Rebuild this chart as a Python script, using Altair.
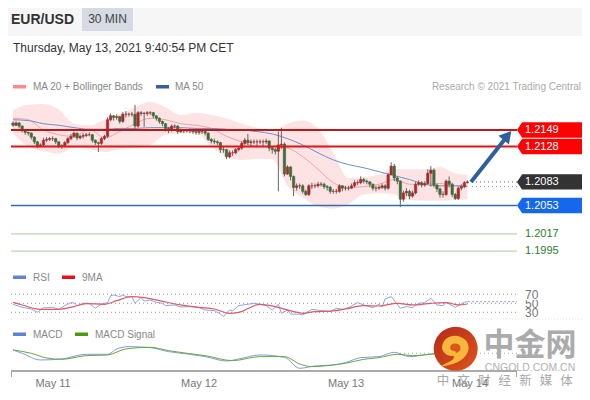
import altair as alt
import pandas as pd

FONT = "Liberation Sans"

# candles: price levels in pips above 1.2000
first_open = 158
closes = [155,158,154,148,146,145,140,134,129,130,
          136,137,138,138,134,129,129,133,138,141,
          145,139,141,142,143,143,136,133,132,138,
          141,162,167,165,166,160,169,169,169,169,
          154,171,170,170,171,171,167,164,160,157,
          151,149,154,154,147,148,148,148,148,147,
          146,147,147,145,137,135,134,133,124,124,
          115,120,120,124,126,132,136,133,134,134,
          134,134,134,135,126,124,122,130,131,93,
          102,90,76,78,78,71,67,78,78,78,
          80,80,77,76,71,71,71,78,75,75,
          75,78,82,82,86,84,83,80,75,75,
          76,78,75,92,103,88,84,61,69,71,
          65,69,80,82,79,81,94,98,79,74,
          67,67,84,80,67,62,75,77,82,83]
highs = [160,160,159,155,149,147,146,141,135,132,
         139,140,140,141,139,134,131,135,140,144,
         147,146,143,145,145,146,144,137,134,140,
         143,165,170,168,169,167,172,173,171,172,
         181,173,173,172,173,173,172,168,165,161,
         158,153,156,156,155,151,150,150,151,150,
         148,150,149,148,146,139,138,136,134,128,
         125,123,123,126,128,135,139,144,137,137,
         137,137,137,138,136,128,126,147,152,133,
         104,103,91,81,81,80,73,80,82,81,
         83,83,82,79,78,74,74,80,79,78,
         78,81,85,85,90,88,86,84,81,78,
         79,81,80,94,108,106,90,85,72,75,
         73,72,83,85,84,84,99,103,100,81,
         76,71,86,90,82,69,77,80,84,85]
lows = [153,154,151,146,143,142,137,131,126,127,
        128,134,135,135,131,126,125,127,131,136,
        139,136,137,138,140,141,133,130,121,130,
        136,139,160,161,162,157,158,165,166,166,
        150,152,167,153,167,168,164,161,157,154,
        147,145,147,151,144,145,145,146,145,144,
        143,143,144,142,135,132,131,130,120,120,
        112,113,116,118,122,124,130,130,128,131,
        127,131,128,131,122,119,118,71,125,90,
        92,85,65,72,74,68,65,65,74,75,
        76,77,74,72,68,68,68,69,71,72,
        72,74,76,79,80,81,80,76,72,71,
        73,74,72,73,92,84,80,51,58,65,
        61,63,67,78,76,77,80,77,76,70,
        63,63,65,76,64,60,60,72,75,81]

# indicator knots
band_bars = [0,5,10,15,20,25,30,35,40,45,50,55,60,65,70,75,80,85,90,95,100,105,110,115,120,125,130,135,140,145,149]
upper = [174,181,182,175,157,155,162,169,178,185,178,168,171,168,164,157,152,146,157,161,151,120,88,89,92,99,99,99,102,94,92]
lower = [145,128,122,119,126,125,121,125,126,130,143,145,145,128,115,111,112,112,78,63,52,49,55,67,69,67,60,59,59,60,61]
ma20 = [164,162,149,143,141,150,139,147,157,164,162,157,155,151,141,134,128,128,126,115,99,82,76,77,80,86,80,80,81,78,78]
ma50 = [162,161,157,155,152,150,150,151,151,152,152,152,151,151,150,149,147,144,138,130,120,111,105,101,96,91,86,80,78,78,77]

rsi_bars = [0,3,6,8,9,10,13,15,17,19,20,21,23,25,27,29,31,32,33,35,36,37,39,40,42,43,45,47,49,50,53,55,58,61,63,66,68,69,71,72,74,77,79,81,83,85,87,88,90,91,94,95,98,101,104,106,108,110,113,115,118,120,121,122,124,127,129,131,133,135,137,139,141,142,145,148,149]
rsi_vals = [47.8,41.1,37.4,30,35,40,41,36.7,44.8,51.5,50.7,44.8,50,50,38.9,48.5,51.5,67,68.5,64.8,68.5,64.8,64.8,50,63.3,55,57.4,52.2,50,44.8,46.3,41.9,42.6,40.4,35.2,33.7,26.3,20.4,35.2,33,44.8,47.8,50,47.8,44.8,35.2,47.8,27.8,35.2,26.3,25.6,24.1,36.7,33.7,31.5,38.9,36.7,40.4,51.5,46.3,40.4,47.8,41.9,59.6,64.8,38.9,42.6,40.4,50,51.5,61.1,46.3,44.8,52.2,41.1,52.2,53.7]
ma9_bars = [0,3,9,15,20,24,30,34,39,43,48,55,61,66,71,74,81,86,92,95,99,105,109,115,120,126,131,137,142,146,149]
ma9_vals = [52.2,46.3,36.7,36.7,42.6,49.3,47.8,55.9,64.8,62.6,55.9,46.3,41.1,37.4,27.8,30,47.8,42.6,31.5,27.8,31.5,33,37.4,44.8,44,50,46.3,50,51.5,46.3,48.5]

macd_bars = [0,3,9,16,24,31,34,38,45,51,58,63,70,74,81,89,94,99,105,109,114,120,125,130,137,142,149]
macd_vals = [25,15,-5,-2,12,12,28,35,32,20,12,5,-8,-2,10,3,-30,-23,-20,-13,2,5,18,5,13,16,25]
signal_bars = [0,6,11,16,24,31,37,45,51,58,63,72,81,89,94,98,105,109,115,120,126,131,137,142,149]
signal_vals = [25,15,1,-3,8,10,28,33,23,14,8,-7,5,5,-17,-25,-20,-15,-3,2,12,8,12,16,20]

opens = [first_open] + closes[:-1]

def price(p):
    return 1.2 + p / 10000

def bx(px):  # page pixel of the reference to bar index
    return (px - 13) / 3.05

xs = alt.Scale(domain=[0, 149], range=[5, 459.45], padding=0, nice=False)
ps = alt.Scale(domain=[1.2053, 1.2149], range=[197.5, 122])
rs = alt.Scale(domain=[30, 70], range=[304.3, 286.3])
ms = alt.Scale(domain=[0, 90], range=[350.3, 320.3])

X = lambda f="x": alt.X(f"{f}:Q", scale=xs, axis=None)
PY = lambda f="y": alt.Y(f"{f}:Q", scale=ps, axis=None)
RY = lambda f="y": alt.Y(f"{f}:Q", scale=rs, axis=None)
MY = lambda f="y": alt.Y(f"{f}:Q", scale=ms, axis=None)

ONE = pd.DataFrame({"a": [0]})
layers = []

def label(text, x, y, size=10, color="#888888", align="left", weight="normal", font=FONT, opacity=1):
    layers.append(alt.Chart(ONE).mark_text(text=text, fontSize=size, color=color, align=align,
                                           baseline="middle", fontWeight=weight, font=font, opacity=opacity)
                  .encode(x=alt.value(x - 8), y=alt.value(y - 8)))

def box(x0, x1, y0, y1, color, opacity=1):
    layers.append(alt.Chart(ONE).mark_rect(color=color, opacity=opacity)
                  .encode(x=alt.value(x0 - 8), x2=alt.value(x1 - 8), y=alt.value(y0 - 8), y2=alt.value(y1 - 8)))

def level(value, x0, x1, color, width, dash=None, scale=PY):
    kw = {"strokeDash": dash} if dash else {}
    df = pd.DataFrame({"x": [bx(x0)], "x1": [bx(x1)], "y": [value]})
    layers.append(alt.Chart(df).mark_rule(color=color, strokeWidth=width, **kw)
                  .encode(x=X(), x2="x1:Q", y=scale()))

# ---------- header ----------
box(0, 590, 0, 36, "#f6f6f6")
box(82, 133, 7, 31, "#d6dae2")
label("EUR/USD", 11, 19.5, size=14, color="#333333", weight="bold")
label("30 MIN", 107.5, 19, size=12, color="#444444", align="center")
label("Thursday, May 13, 2021 9:40:54 PM CET", 13, 48, size=12, color="#333333")
box(13, 26, 85, 88.5, "#ff8a8a")
label("MA 20 + Bollinger Bands", 33, 86.5)
box(156, 169, 85, 88.5, "#355f9f")
label("MA 50", 175, 86.5)
label("Research © 2021 Trading Central", 581, 86.5, color="#aaaaaa", align="right")

# ---------- price panel ----------
bands = pd.DataFrame({"x": band_bars, "u": [price(v) for v in upper], "l": [price(v) for v in lower],
                      "ma20": [price(v) for v in ma20], "ma50": [price(v) for v in ma50]})
layers.append(alt.Chart(bands).mark_area(color="#fde3e3", interpolate="monotone")
              .encode(x=X(), y=PY("u"), y2="l:Q"))
layers.append(alt.Chart(bands).mark_line(color="#f6a3a3", strokeWidth=1, interpolate="monotone")
              .encode(x=X(), y=PY("ma20")))
layers.append(alt.Chart(bands).mark_line(color="#6f8fc8", strokeWidth=1, interpolate="monotone")
              .encode(x=X(), y=PY("ma50")))

candles = pd.DataFrame({"x": range(len(closes)), "o": [price(v) for v in opens], "c": [price(v) for v in closes],
                        "h": [price(v) for v in highs], "l": [price(v) for v in lows],
                        "d": ["up" if c >= o else "down" for o, c in zip(opens, closes)]})
layers.append(alt.Chart(candles).mark_rule(color="#666666", strokeWidth=1)
              .encode(x=X(), y=PY("h"), y2="l:Q"))
layers.append(alt.Chart(candles).mark_bar(size=2.4, strokeWidth=0.6)
              .encode(x=X(), y=PY("o"), y2="c:Q",
                      color=alt.Color("d:N", scale=alt.Scale(domain=["up", "down"], range=["#a82a2c", "#3f6c3a"]), legend=None),
                      stroke=alt.Stroke("d:N", scale=alt.Scale(domain=["up", "down"], range=["#a82a2c", "#3f6c3a"]), legend=None)))

level(1.2149, 11, 517, "#c01818", 2)
level(1.2128, 11, 517, "#e01515", 2)
level(1.2053, 11, 517, "#2f6db5", 1.3)
level(1.2017, 11, 517, "#b5d8ae", 1.3)
level(1.1995, 11, 517, "#b5d8ae", 1.3)
level(1.2083, 472, 517, "#666666", 1, dash=[1, 3])
level(1.2077, 472, 517, "#888888", 1, dash=[1, 3])

# trade arrow
arrow = pd.DataFrame({"x": [bx(471)], "x1": [bx(506)], "y": [1.2083], "y1": [1.2139]})
layers.append(alt.Chart(arrow).mark_rule(color="#2f5f9f", strokeWidth=4)
              .encode(x=X(), x2="x1:Q", y=PY(), y2="y1:Q"))
head = pd.DataFrame({"x": [bx(507.5)], "y": [1.2142]})
layers.append(alt.Chart(head).mark_point(shape="triangle-up", filled=True, size=190, angle=40, color="#2f5f9f", opacity=1)
              .encode(x=X(), y=PY()))

# price tags
tag_values = [1.2149, 1.2128, 1.2083, 1.2053]
tag_colors = ["#fb0303", "#fb0303", "#333333", "#1568ee"]
for v, col in zip(tag_values, tag_colors):
    df = pd.DataFrame({"x": [bx(522)], "x1": [bx(587)], "y": [v + 0.00098], "y1": [v - 0.00098], "m": [v]})
    layers.append(alt.Chart(df).mark_rect(color=col).encode(x=X(), x2="x1:Q", y=PY(), y2="y1:Q"))
    layers.append(alt.Chart(df).mark_point(shape="M-0.67,0 L0,-1 L0,1 Z", filled=True, size=225, color=col,
                                           opacity=1, strokeWidth=0).encode(x=X(), y=PY("m")))
    lab = pd.DataFrame({"x": [bx(525)], "y": [v], "t": [f"{v:.4f}"]})
    layers.append(alt.Chart(lab).mark_text(align="left", baseline="middle", fontSize=11, font=FONT, color="#ffffff")
                  .encode(x=X(), y=PY(), text="t:N"))
for v in [1.2017, 1.1995]:
    lab = pd.DataFrame({"x": [bx(525)], "y": [v], "t": [f"{v:.4f}"]})
    layers.append(alt.Chart(lab).mark_text(align="left", baseline="middle", fontSize=11, font=FONT, color="#2e7d2e")
                  .encode(x=X(), y=PY(), text="t:N"))

# ---------- RSI panel ----------
box(13, 26, 275.5, 279, "#5f82d8")
label("RSI", 33, 277.5)
box(62, 75, 275.5, 279, "#e8101c")
label("9MA", 82, 277.5)
for v in [70, 50, 30]:
    level(v, 11, 517, "#999999", 1, dash=[1, 3], scale=RY)
level(53.7, 468, 517, "#8fa8e0", 1, dash=[2, 2], scale=RY)
rsi = pd.DataFrame({"x": rsi_bars, "y": rsi_vals})
ma9 = pd.DataFrame({"x": ma9_bars, "y": ma9_vals})
layers.append(alt.Chart(rsi).mark_line(color="#7f9be0", strokeWidth=0.9).encode(x=X(), y=RY()))
layers.append(alt.Chart(ma9).mark_line(color="#dc5a66", strokeWidth=1.2, interpolate="monotone").encode(x=X(), y=RY()))
label("50", 525, 304, size=12, color="#777777")
box(522, 545, 288, 300, "#ffffff")
box(522, 545, 308, 317, "#ffffff")
label("70", 525, 294.5, size=12, color="#777777")
label("30", 525, 312.5, size=12, color="#777777")
level(0, 8, 590, "#e4e4e4", 1, dash=[1, 2], scale=lambda f="y": alt.Y("y:Q", scale=alt.Scale(domain=[0, 1], range=[311, 312]), axis=None))

# ---------- MACD panel ----------
box(13, 26, 332.5, 336, "#5f82d8")
label("MACD", 33, 334.5)
box(75, 88, 332.5, 336, "#4c9a0a")
label("MACD Signal", 95, 334.5)
level(15, 400, 517, "#aaaaaa", 1, dash=[1, 3], scale=MY)
macd = pd.DataFrame({"x": macd_bars, "y": macd_vals})
signal = pd.DataFrame({"x": signal_bars, "y": signal_vals})
layers.append(alt.Chart(macd).mark_line(color="#7f9be0", strokeWidth=1, interpolate="monotone").encode(x=X(), y=MY()))
layers.append(alt.Chart(signal).mark_line(color="#6aa545", strokeWidth=1, interpolate="monotone").encode(x=X(), y=MY()))

# ---------- time axis ----------
box(11, 517, 370, 372, "#aaaaaa")
box(11, 12, 370, 377, "#aaaaaa")
box(516, 517, 370, 377, "#aaaaaa")
for name, px in [("May 11", 53), ("May 12", 199), ("May 13", 346), ("May 14", 470)]:
    label(name, px, 384, size=11, color="#777777", align="center")

# ---------- watermark ----------
logo = pd.DataFrame({"x": [bx(455.7)], "y": [1.2149 - (348.7 - 130) / 7860]})
grad = alt.LinearGradient(gradient="linear", x1=0, y1=0, x2=1, y2=1,
                          stops=[alt.GradientStop(offset=0, color="#b32a18"),
                                 alt.GradientStop(offset=1, color="#e0551c")])
layers.append(alt.Chart(logo).mark_point(shape="circle", filled=True, size=1936, fill=grad, opacity=1, strokeWidth=0)
              .encode(x=X(), y=PY()))
SWIRL = "M-0.62,-0.05 C-0.6,-0.6 0.05,-0.75 0.42,-0.42 C0.75,-0.1 0.55,0.4 0.1,0.6 C-0.15,0.72 -0.45,0.78 -0.7,0.8 C-0.3,0.6 0,0.5 -0.1,0.32 C-0.35,0.35 -0.6,0.2 -0.62,-0.05 Z"
HOLE = "M-0.25,-0.05 C-0.25,-0.3 0.2,-0.3 0.22,-0.05 C0.22,0.1 0.1,0.18 0,0.18 C0.05,0.05 -0.25,0.15 -0.25,-0.05 Z"
layers.append(alt.Chart(logo).mark_point(shape=SWIRL, filled=True, size=1936, color="#f6b73c", opacity=1, strokeWidth=0)
              .encode(x=X(), y=PY()))
layers.append(alt.Chart(logo).mark_point(shape=HOLE, filled=True, size=1936, color="#d9571f", opacity=1, strokeWidth=0)
              .encode(x=X(), y=PY()))
label("中金网", 530, 346, size=31, color="#ababab", align="center", weight="bold", font="Noto Sans CJK SC")
label("CNGOLD.COM.CN", 530, 368, size=10.5, color="#aaaaaa", align="center", opacity=0.9)
for i, ch in enumerate("中文财经新媒体"):
    label(ch, 443 + i * 20.6, 381, size=12.5, color="#999999", align="center", font="Noto Sans CJK SC", opacity=0.85)

chart = (alt.layer(*layers)
         .resolve_scale(y="independent", color="independent", stroke="independent")
         .properties(width=574, height=392, padding=0, autosize="none", background="#ffffff")
         .configure_view(stroke=None))
chart.save("out.html", embed_options={"renderer": "svg", "actions": False})
